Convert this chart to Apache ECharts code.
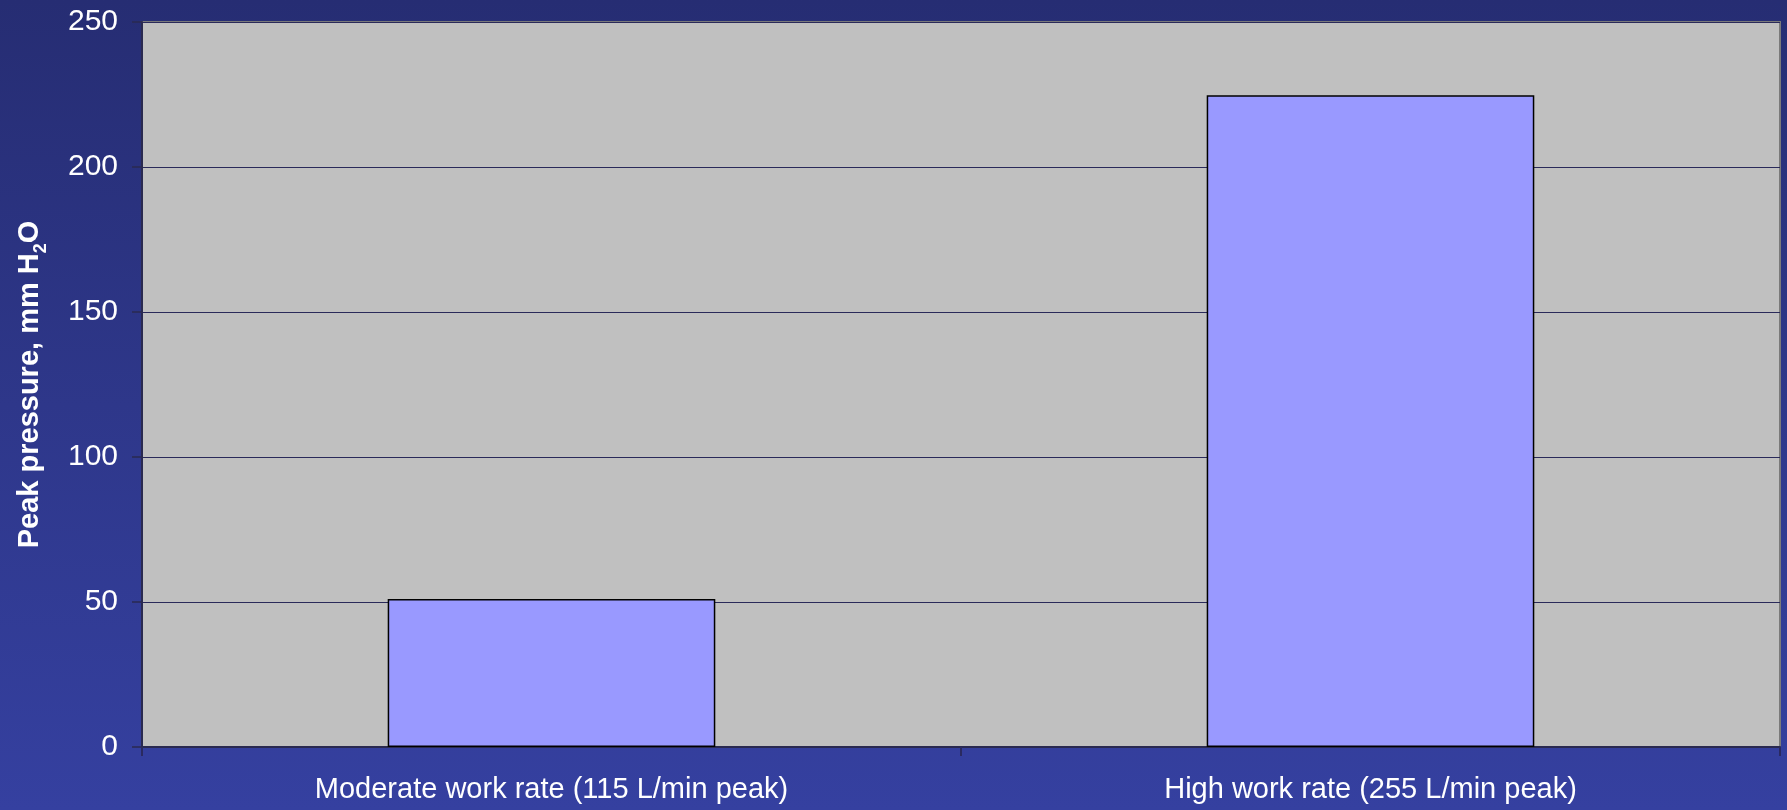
<!DOCTYPE html>
<html>
<head>
<meta charset="utf-8">
<script src="https://cdn.jsdelivr.net/npm/echarts@6/dist/echarts.min.js"></script>
<style>
html,body{margin:0;padding:0;width:1787px;height:810px;overflow:hidden;}
#chart{width:1787px;height:810px;background:linear-gradient(to bottom,#262d73 0%,#2e378a 50%,#3540a0 100%);}
</style>
</head>
<body>
<div id="chart"></div>
<script>
const categories = ['Moderate work rate (115 L/min peak)', 'High work rate (255 L/min peak)'];
const peakPressure = [51, 224.7];
const yTicks = { min: 0, max: 250, interval: 50 };

const chart = echarts.init(document.getElementById('chart'), null, { renderer: 'canvas' });
chart.setOption({
  animation: false,
  grid: {
    left: 142, right: 7, top: 22, bottom: 63,
    show: true, backgroundColor: '#c0c0c0', borderColor: '#7a7a7a', borderWidth: 2
  },
  xAxis: {
    type: 'category',
    data: categories,
    boundaryGap: true,
    axisLine: { show: true, lineStyle: { color: '#2a2a50', width: 2 } },
    axisTick: { show: true, length: 9, lineStyle: { color: '#2a2a60', width: 2 } },
    axisLabel: { color: '#ffffff', fontFamily: 'Liberation Sans, Arial, sans-serif', fontSize: 29, margin: 28 }
  },
  yAxis: {
    type: 'value',
    min: yTicks.min, max: yTicks.max, interval: yTicks.interval,
    name: 'Peak pressure, mm H{sub|2}O',
    nameLocation: 'middle',
    nameGap: 98,
    nameTextStyle: {
      color: '#ffffff', fontFamily: 'Liberation Sans, Arial, sans-serif', fontSize: 29, fontWeight: 'bold',
      rich: { sub: { fontSize: 18, fontWeight: 'bold', color: '#ffffff', fontFamily: 'Liberation Sans, Arial, sans-serif', verticalAlign: 'bottom', padding: [0, 0, -6, 0] } }
    },
    axisLine: { show: true, lineStyle: { color: '#2a2a50', width: 2 } },
    axisTick: { show: true, length: 10, lineStyle: { color: '#2a2a50', width: 1.5 } },
    axisLabel: { color: '#ffffff', fontFamily: 'Liberation Sans, Arial, sans-serif', fontSize: 30, margin: 24 },
    splitLine: { show: true, lineStyle: { color: '#2a2a5a', width: 1.2 } }
  },
  series: [{
    type: 'bar',
    data: peakPressure,
    barWidth: '40%',
    itemStyle: { color: '#9999ff', borderColor: '#000000', borderWidth: 1.5 }
  }]
});
</script>
</body>
</html>
